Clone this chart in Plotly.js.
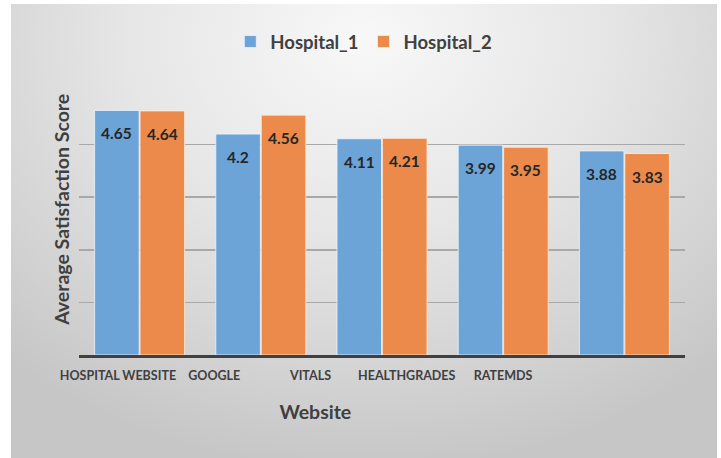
<!DOCTYPE html>
<html>
<head>
<meta charset="utf-8">
<script src="https://cdn.plot.ly/plotly-3.0.1.min.js"></script>
<style>
  html, body { margin: 0; padding: 0; background: #ffffff; }
  #bg { position: absolute; left: 11px; top: 4px; width: 706px; height: 454px;
        background: radial-gradient(ellipse 75% 95% at 50% 8%, #f8f8f8 0%, #e6e6e6 45%, #cfcfcf 85%, #c6c6c6 100%); }
  #chart { position: absolute; left: 0; top: 0; width: 721px; height: 458px; }
</style>
</head>
<body>
<div id="bg"></div>
<div id="chart"></div>
<script>
const categories = ["HOSPITAL WEBSITE", "GOOGLE", "VITALS", "HEALTHGRADES", "RATEMDS"];
const seriesNames = ["Hospital_1", "Hospital_2"];
// bar heights as drawn
const hospital1 = [4.65, 4.20, 4.11, 3.99, 3.88];
const hospital2 = [4.64, 4.56, 4.12, 3.95, 3.83];
// data label texts as printed
const labels1 = ["4.65", "4.2", "4.11", "3.99", "3.88"];
const labels2 = ["4.64", "4.56", "4.21", "3.95", "3.83"];
const yTicks = [0, 1, 2, 3, 4, 5];
const xTitle = "Website";
const yTitle = "Average Satisfaction Score";

const FONT = "Lato, 'Open Sans', sans-serif";
const DARK = "#404040";

const traces = [
  { type: "bar", name: seriesNames[0], x: categories, y: hospital1,
    marker: { color: "#6ca4d8", line: { color: "rgba(235,245,255,0.8)", width: 1 } },
    hoverinfo: "none" },
  { type: "bar", name: seriesNames[1], x: categories, y: hospital2,
    marker: { color: "#ec8a4b", line: { color: "rgba(255,235,220,0.8)", width: 1 } },
    hoverinfo: "none" },
  // invisible carrier for the separately placed category label row
  { type: "scatter", mode: "markers", x: categories, y: categories.map(() => 0),
    xaxis: "x2", yaxis: "y3", showlegend: false, hoverinfo: "none",
    marker: { opacity: 0 } }
];

const annotations = [];
const off = 0.1875;
categories.forEach((c, i) => {
  annotations.push({ x: i - off, y: hospital1[i], xref: "x", yref: "y", text: labels1[i],
    showarrow: false, yanchor: "middle", yshift: -23,
    font: { family: FONT, size: 15.5, color: "#262626", weight: "bold" } });
  annotations.push({ x: i + off, y: hospital2[i], xref: "x", yref: "y", text: labels2[i],
    showarrow: false, yanchor: "middle", yshift: -23,
    font: { family: FONT, size: 15.5, color: "#262626", weight: "bold" } });
});
annotations.push({ text: yTitle, xref: "paper", yref: "paper", x: -0.028, y: 0.552,
  xanchor: "center", yanchor: "middle", textangle: -90, showarrow: false,
  font: { family: FONT, size: 19.5, color: DARK, weight: "bold" } });

const layout = {
  width: 721, height: 458,
  paper_bgcolor: "rgba(0,0,0,0)", plot_bgcolor: "rgba(0,0,0,0)",
  margin: { l: 79, r: 36, t: 92, b: 103 },
  barmode: "group", bargap: 0.25, bargroupgap: 0.02,
  showlegend: true,
  legend: { orientation: "h", x: 0.47, xanchor: "center", y: 1.19, yanchor: "middle",
    font: { family: FONT, size: 18.5, color: DARK, weight: "bold" },
    itemwidth: 30, bgcolor: "rgba(0,0,0,0)" },
  xaxis: { type: "category", range: [-0.5, 4.5], showticklabels: false, ticks: "",
    showline: true, linecolor: DARK, linewidth: 3, showgrid: false, fixedrange: true },
  xaxis2: { type: "category", anchor: "free", position: 0,
    domain: [0, 0.78], range: [-0.405, 4.506], showline: false, showgrid: false, zeroline: false,
    ticks: "outside", ticklen: 9, tickcolor: "rgba(0,0,0,0)",
    tickfont: { family: FONT, size: 12.5, color: DARK, weight: "bold" },
    title: { text: xTitle, standoff: 23, font: { family: FONT, size: 19.5, color: DARK, weight: "bold" } } },
  yaxis: { range: [0, 5], tickvals: yTicks, showticklabels: false, ticks: "",
    showgrid: true, gridcolor: "#a8a8a8", gridwidth: 1.5, zeroline: false, fixedrange: true },
  yaxis3: { anchor: "x2", domain: [0, 1], range: [0, 5], visible: false, showgrid: false, zeroline: false },
  annotations: annotations
};

Plotly.newPlot("chart", traces, layout, { displayModeBar: false, staticPlot: true });
</script>
</body>
</html>
